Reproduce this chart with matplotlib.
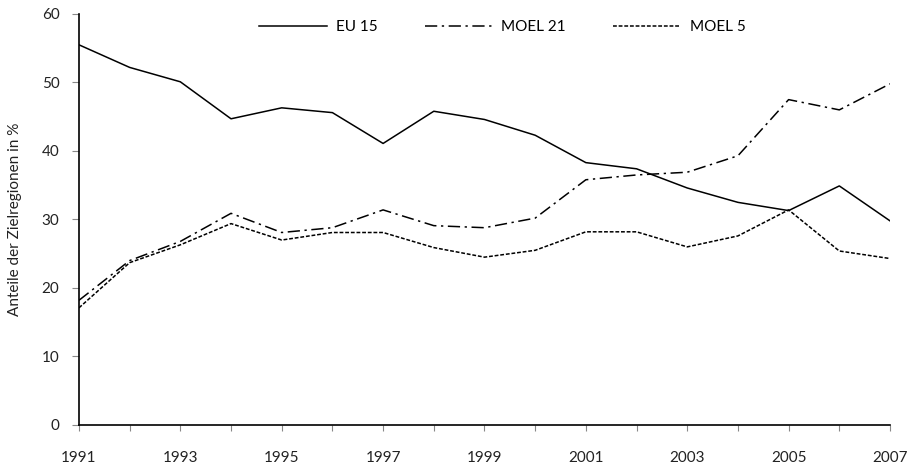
import matplotlib
matplotlib.use('Agg')
import matplotlib.pyplot as plt

plt.rcParams['font.family'] = ['Lato', 'DejaVu Sans']

jahre = list(range(1991, 2008))
eu15 = [55.5, 52.2, 50.1, 44.7, 46.3, 45.6, 41.1, 45.8, 44.6, 42.3, 38.3, 37.4, 34.6, 32.5, 31.3, 34.9, 29.8]
moel21 = [18.2, 24.0, 26.8, 30.9, 28.1, 28.8, 31.4, 29.1, 28.8, 30.2, 35.8, 36.5, 36.9, 39.3, 47.5, 46.0, 49.8]
moel5 = [17.1, 23.7, 26.3, 29.4, 27.0, 28.1, 28.1, 25.9, 24.5, 25.5, 28.2, 28.2, 26.0, 27.6, 31.4, 25.4, 24.3]

fig = plt.figure(figsize=(9.18, 4.66), dpi=100)
ax = fig.add_axes([0.086, 0.088, 0.8835, 0.882])

ax.plot(jahre, eu15, color='black', lw=1.1, label='EU 15')
ax.plot(jahre, moel21, color='black', lw=1.1, dashes=(8, 3, 1.5, 3), label='MOEL 21')
ax.plot(jahre, moel5, color='black', lw=1.1, dashes=(2.5, 1.2), label='MOEL 5')

ax.set_xlim(1991, 2007)
ax.set_ylim(0, 60)
ax.set_xticks(jahre)
ax.set_xticklabels([str(j) if j % 2 == 1 else '' for j in jahre])
ax.set_yticks(range(0, 61, 10))

for s in ['top', 'right']:
    ax.spines[s].set_visible(False)
for s in ['left', 'bottom']:
    ax.spines[s].set_color('black')
    ax.spines[s].set_linewidth(1.2)

ax.tick_params(axis='x', length=4, color='#888888', pad=15, labelsize=11, labelcolor='#222222')
ax.tick_params(axis='y', length=5, color='#888888', pad=9, labelsize=11, labelcolor='#222222')

ax.set_ylabel('Anteile der Zielregionen in %', fontsize=11, color='#222222', labelpad=14)

ax.legend(loc='upper center', bbox_to_anchor=(0.522, 1.018), ncol=3, frameon=False,
          fontsize=11, handlelength=4.4, columnspacing=3.1, handletextpad=0.6)

fig.savefig('out.png', dpi=100)
